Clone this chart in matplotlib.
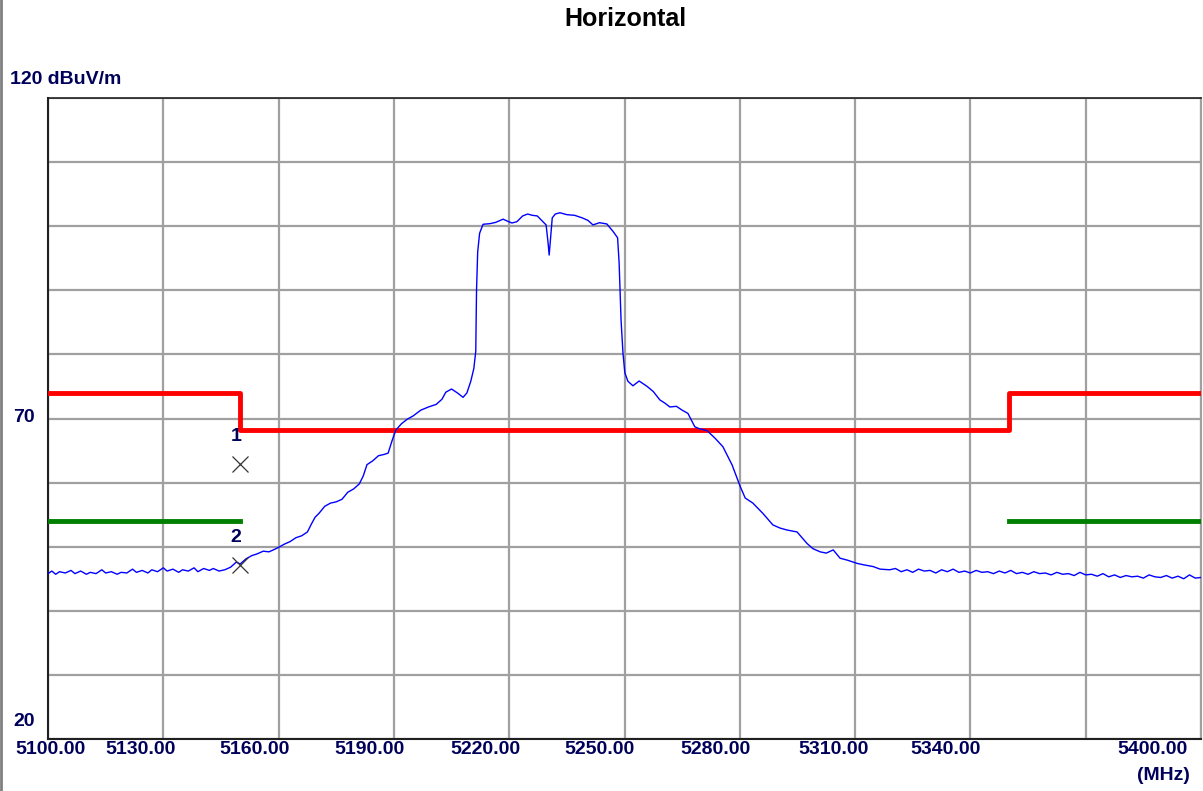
import matplotlib
matplotlib.use("Agg")
from matplotlib import pyplot as plt
from matplotlib import transforms
from matplotlib.lines import Line2D

plt.rcParams["font.family"] = ["Liberation Sans", "DejaVu Sans"]

# measured trace (MHz, dBuV/m)
freq = [
    5100, 5101, 5102, 5103, 5104.5, 5106, 5107, 5108.5, 5110, 5111, 5112.5, 5114, 5115,
    5116.5, 5118, 5119, 5120.5, 5122, 5123, 5124.5, 5126, 5127, 5128.5, 5130, 5131, 5132.5,
    5134, 5135, 5136.5, 5138, 5139, 5140.5, 5142, 5143, 5144.5, 5146, 5147.5, 5149, 5150,
    5151.5, 5153, 5154.5, 5156, 5157.5, 5159, 5160, 5161.5, 5163, 5164.5, 5166, 5167.5,
    5168.5, 5169.5, 5170.5, 5172, 5173.5, 5175, 5176.5, 5178, 5179.5, 5181, 5182, 5183,
    5184.5, 5186, 5187.5, 5188.5, 5189.5, 5190.5, 5192, 5193.5, 5195, 5197, 5199, 5201,
    5202.5, 5203.5, 5205, 5206.5, 5208, 5209, 5210, 5210.8, 5211.3, 5211.5, 5211.8, 5212.3,
    5213.2, 5215, 5216.5, 5218.4, 5219.5, 5220.7, 5222, 5223.5, 5224.8, 5226, 5227.3,
    5228.8, 5229.6, 5230.1, 5230.4, 5230.8, 5231.2, 5232, 5233.2, 5235, 5237, 5239,
    5240.5, 5241.8, 5243.5, 5245.4, 5247, 5248.2, 5248.6, 5249.1, 5249.6, 5250.1, 5250.9,
    5252.2, 5253.8, 5255.9, 5257.5, 5259.2, 5260.5, 5261.8, 5263.5, 5265, 5266.5, 5268.3,
    5269.5, 5271.5, 5273.6, 5275.6, 5278, 5280.1, 5281.4, 5283.4, 5286, 5288.6, 5290.5,
    5292.3, 5294.9, 5296.5, 5297.5, 5299, 5300.9, 5302.5, 5304.3, 5306.1, 5308, 5310.5,
    5312, 5314.7, 5316.5, 5319, 5320.5, 5322, 5323.5, 5325, 5326.5, 5328, 5329.5, 5331,
    5332.5, 5334, 5335.5, 5337, 5338.5, 5340, 5341.5, 5343, 5344.5, 5346, 5347.5, 5349,
    5350.5, 5352, 5353.5, 5355, 5356.5, 5358, 5359.5, 5361, 5362.5, 5364, 5365.5, 5367,
    5368.5, 5370, 5371.5, 5373, 5374.5, 5376, 5377.5, 5379, 5380.5, 5382, 5383.5, 5385,
    5386.5, 5388, 5389.5, 5391, 5392.5, 5394, 5395.5, 5397, 5398.5, 5400,
]
level = [
    45.8, 46.2, 45.7, 46.1, 45.9, 46.3, 45.8, 46.2, 45.7, 46.0, 45.8, 46.4, 45.9,
    46.1, 45.7, 46.0, 45.9, 46.5, 46.0, 46.3, 45.9, 46.4, 46.1, 46.7, 46.2, 46.5,
    46.0, 46.4, 46.2, 46.7, 46.1, 46.6, 46.3, 46.6, 46.2, 46.4, 46.8, 47.6, 47.3,
    48.1, 48.6, 48.9, 49.3, 49.2, 49.6, 49.9, 50.4, 50.8, 51.4, 51.7, 52.3,
    53.5, 54.6, 55.2, 56.3, 56.8, 57.0, 57.4, 58.5, 59.0, 59.8, 61.0, 62.8,
    63.4, 64.2, 64.4, 64.6, 66.5, 68.2, 69.2, 69.9, 70.4, 71.3, 71.8, 72.2,
    73.0, 74.1, 74.6, 74.0, 73.3, 74.0, 75.8, 77.8, 80.5, 90.0, 96.0, 98.9,
    100.3, 100.4, 100.6, 101.1, 100.8, 100.5, 100.7, 101.6, 101.9, 101.7, 101.6,
    100.7, 100.2, 97.5, 95.5, 98.5, 101.3, 101.9, 102.1, 101.8, 101.7, 101.3,
    100.9, 100.2, 100.55, 100.35, 99.2, 98.2, 94.3, 85.4, 80.2, 77.1, 75.8,
    75.1, 75.85, 75.0, 74.2, 72.9, 72.4, 71.8, 71.9, 71.3, 70.8, 68.7,
    68.4, 68.1, 66.9, 65.6, 62.75, 59.4, 57.6, 56.8, 55.2, 53.4, 52.9,
    52.6, 52.3, 51.2, 50.5, 49.7, 49.2, 49.0, 49.5, 48.2, 47.9, 47.4,
    47.2, 46.9, 46.5, 46.4, 46.6, 46.1, 46.4, 46.0, 46.5, 46.2, 46.3, 45.9,
    46.4, 46.1, 46.5, 46.0, 46.2, 45.9, 46.3, 46.0, 46.1, 45.8, 46.2, 45.9,
    46.3, 45.8, 46.0, 45.7, 46.1, 45.8, 45.9, 45.6, 46.0, 45.7, 45.8, 45.5,
    46.0, 45.6, 45.7, 45.4, 45.8, 45.3, 45.6, 45.2, 45.5, 45.3, 45.4, 45.1,
    45.6, 45.3, 45.2, 45.5, 45.1, 45.4, 45.0, 45.6, 45.1, 45.2,
]

# limit lines
limit_red_f = [5100, 5150, 5150, 5350, 5350, 5400]
limit_red_v = [74, 74, 68.2, 68.2, 74, 74]
limit_green_left_f = [5100, 5150]
limit_green_right_f = [5350, 5400]
limit_green_v = 54

# markers
marker_f = [5150, 5150]
marker_v = [62.9, 47.1]
marker_names = ["1", "2"]

xticks = [5100, 5130, 5160, 5190, 5220, 5250, 5280, 5310, 5340, 5370, 5400]
xtick_labels = ["5100.00", "5130.00", "5160.00", "5190.00", "5220.00", "5250.00",
                "5280.00", "5310.00", "5340.00", "", "5400.00"]
xlabel_shift = [2, -23, -24, -24, -24, -25, -24, -22, -25, 0, -49]  # px

navy = "#00005a"

fig = plt.figure(figsize=(12.03, 7.91), dpi=100)
ax = fig.add_axes([48 / 1203, 52 / 791, 1153 / 1203, 641 / 791])
ax.set_xlim(5100, 5400)
ax.set_ylim(20, 120)
ax.set_xticks(xticks)
ax.set_yticks(range(20, 121, 10))
ax.tick_params(length=0, labelbottom=False, labelleft=False)
ax.grid(True, color="#a0a0a0", lw=1.6)
for s in ax.spines.values():
    s.set_color("#202020")
    s.set_linewidth(1.5)
ax.spines["right"].set_color("#a0a0a0")
ax.spines["top"].set_linewidth(1.2)

ax.plot(limit_red_f, limit_red_v, color="#ff0000", lw=3.5, zorder=3)
ax.plot(limit_green_left_f, [limit_green_v] * 2, color="#008000", lw=3.5, zorder=3)
ax.plot(limit_green_right_f, [limit_green_v] * 2, color="#008000", lw=3.5, zorder=3)
ax.plot(freq, level, color="#0000ff", lw=1.0, zorder=4)

ax.plot(marker_f, marker_v, "x", color="#333333", ms=11, mew=0.9, zorder=5)
for f, v, name in zip(marker_f, marker_v, marker_names):
    ax.annotate(name, (f, v), xytext=(-4, 28), textcoords="offset pixels",
                ha="center", va="center", fontsize=14, fontweight="bold", color=navy)

# x tick labels, shifted like the instrument software does
for f, lab, dx in zip(xticks, xtick_labels, xlabel_shift):
    tr = transforms.blended_transform_factory(ax.transData, fig.transFigure)
    tr = transforms.offset_copy(tr, fig=fig, x=dx, y=0, units="dots")
    fig.text(f, 1 - 750 / 791, lab, transform=tr, ha="center", va="center",
             fontsize=14, fontweight="bold", color=navy)
fig.text(1190 / 1203, 1 - 775 / 791, "(MHz)", ha="right", va="center",
         fontsize=14, fontweight="bold", color=navy)

# y labels
fig.text(10 / 1203, 1 - 80 / 791, "120 dBuV/m", ha="left", va="center",
         fontsize=14, fontweight="bold", color=navy)
fig.text(13 / 1203, 1 - 418 / 791, "70", ha="left", va="center",
         fontsize=14, fontweight="bold", color=navy)
fig.text(13 / 1203, 1 - 722 / 791, "20", ha="left", va="center",
         fontsize=14, fontweight="bold", color=navy)

fig.text(625 / 1203, 1 - 19 / 791, "Horizontal", ha="center", va="center",
         fontsize=18, fontweight="bold", color="black")

# window border on the left edge
fig.add_artist(Line2D([0.0012, 0.0012], [0, 1], color="#808080", lw=2,
                      transform=fig.transFigure))

fig.savefig("out.png", dpi=100)
